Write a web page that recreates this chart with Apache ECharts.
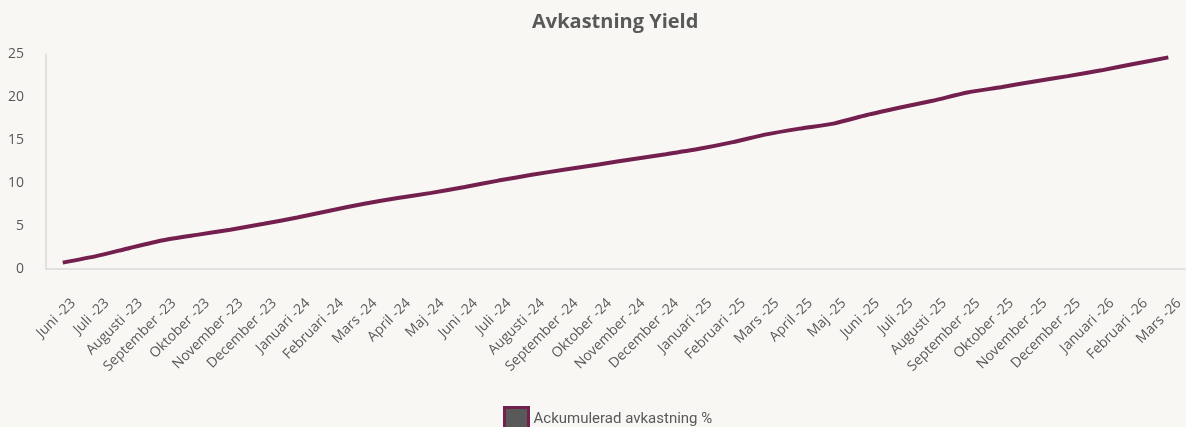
<!DOCTYPE html>
<html>
<head>
<meta charset="utf-8">
<script src="https://cdn.jsdelivr.net/npm/echarts@6/dist/echarts.min.js"></script>
<style>
html,body{margin:0;padding:0;background:#f8f7f4;}
#c{width:1186px;height:427px;}
</style>
</head>
<body>
<div id="c"></div>
<script>
const categories = [
  "Juni -23","Juli -23","Augusti -23","September -23","Oktober -23","November -23","December -23",
  "Januari -24","Februari -24","Mars -24","April -24","Maj -24","Juni -24","Juli -24","Augusti -24",
  "September -24","Oktober -24","November -24","December -24",
  "Januari -25","Februari -25","Mars -25","April -25","Maj -25","Juni -25","Juli -25","Augusti -25",
  "September -25","Oktober -25","November -25","December -25",
  "Januari -26","Februari -26","Mars -26"
];
const values = [
  0.74, 1.5, 2.45, 3.35, 3.97, 4.56, 5.26,
  5.99, 6.81, 7.59, 8.26, 8.85, 9.54, 10.28, 10.95,
  11.57, 12.15, 12.77, 13.35,
  13.98, 14.75, 15.65, 16.32, 16.9, 17.9, 18.77, 19.59,
  20.52, 21.14, 21.81, 22.43,
  23.1, 23.87, 24.61
];
const yTicks = { min: 0, max: 25, interval: 5 };
const seriesName = "Ackumulerad avkastning %";
const titleText = "Avkastning Yield";

const font = "'Open Sans', 'Noto Sans', sans-serif";
const chart = echarts.init(document.getElementById('c'), null, {renderer: 'canvas'});
chart.setOption({
  backgroundColor: '#f8f7f4',
  animation: false,
  title: {
    text: titleText,
    left: 527, top: 7,
    textStyle: { fontFamily: font, fontSize: 20, fontWeight: 'bold', color: '#595959' }
  },
  legend: {
    data: [seriesName],
    left: 503, top: 406, padding: 0,
    itemWidth: 24, itemHeight: 24, itemGap: 8,
    icon: 'rect',
    itemStyle: { color: '#595959', borderColor: '#74204f', borderWidth: 3 },
    textStyle: { fontFamily: "Roboto, 'Open Sans', sans-serif", fontSize: 15, color: '#595959' }
  },
  grid: { left: 46, right: 0, top: 54, bottom: 158, containLabel: false },
  xAxis: {
    type: 'category',
    data: categories,
    boundaryGap: true,
    axisLine: { show: true, lineStyle: { color: '#d9d9d9', width: 1.5 } },
    axisTick: { show: false },
    axisLabel: {
      interval: 0, rotate: 45, margin: 10,
      verticalAlign: 'top',
      padding: [16, 8, 0, 0],
      fontFamily: font, fontSize: 14, color: '#595959'
    },
    splitLine: { show: false }
  },
  yAxis: {
    type: 'value',
    min: yTicks.min, max: yTicks.max, interval: yTicks.interval,
    axisLine: { show: true, lineStyle: { color: '#d9d9d9', width: 1.5 } },
    axisTick: { show: false },
    axisLabel: { margin: 22, fontFamily: font, fontSize: 14, color: '#595959' },
    splitLine: { show: false }
  },
  series: [{
    name: seriesName,
    type: 'line',
    data: values,
    showSymbol: false,
    symbol: 'none',
    smooth: 0.2,
    lineStyle: { color: '#74204f', width: 4 },
    itemStyle: { color: '#595959', borderColor: '#74204f' }
  }]
});
</script>
</body>
</html>
